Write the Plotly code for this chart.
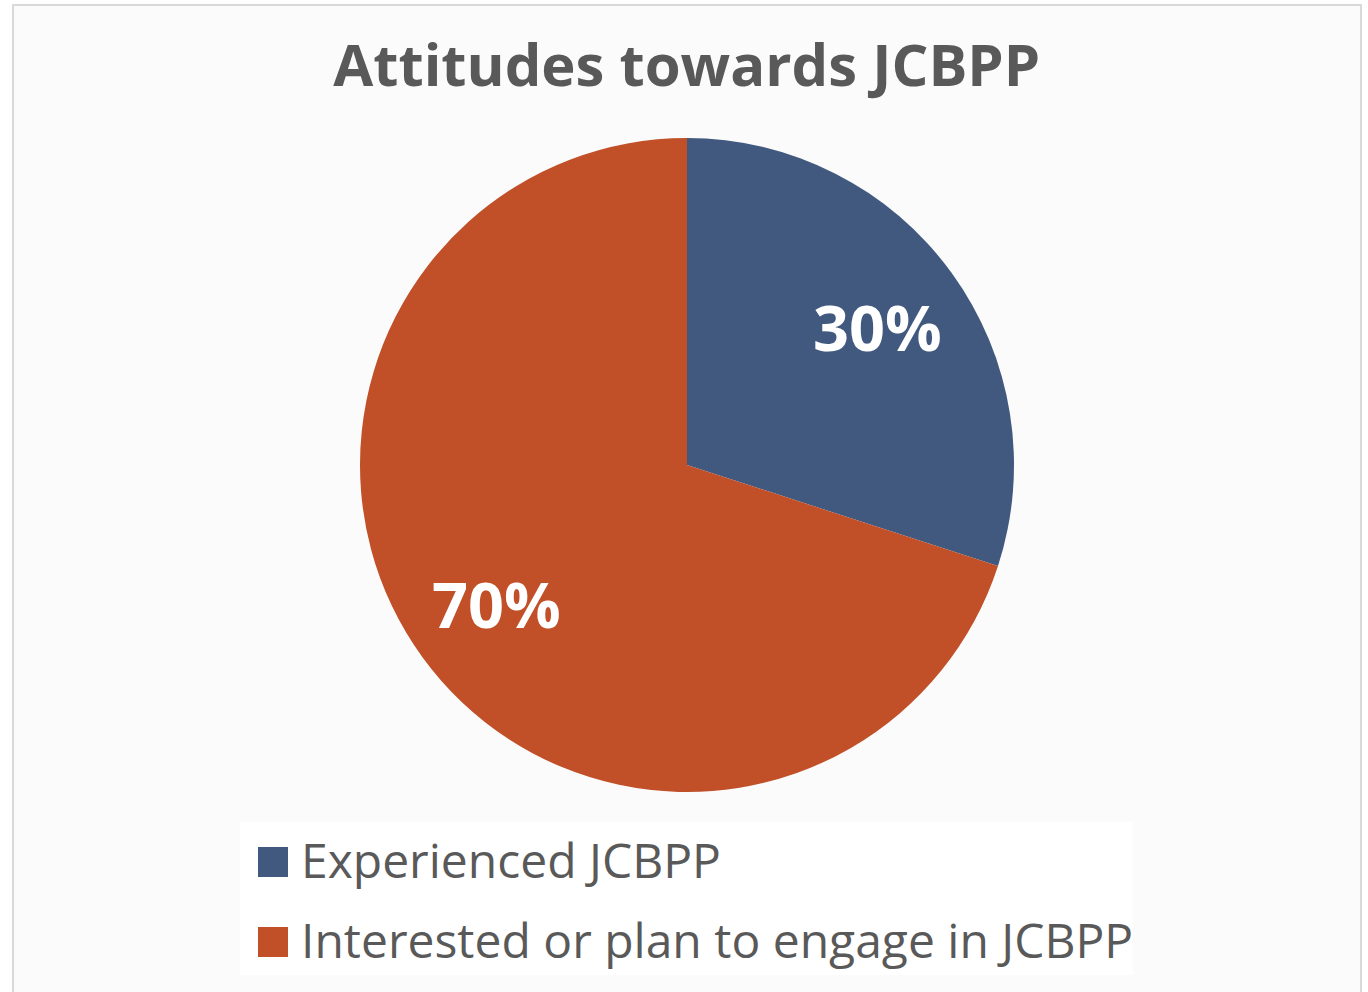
import math
import plotly.graph_objects as go

labels = ['Experienced JCBPP', 'Interested or plan to engage in JCBPP']
values = [30, 70]
colors = ['#41597F', '#C14F28']
title_text = 'Attitudes towards JCBPP'

W, H = 1368, 992
FONT = 'Open Sans'
GREY = '#595959'

# pie geometry (pixels)
cx, cy, R = 687, 465, 327

fig = go.Figure()
fig.add_trace(
    go.Pie(
        labels=labels,
        values=values,
        sort=False,
        direction='clockwise',
        rotation=0,
        marker={'colors': colors, 'line': {'width': 0}},
        textinfo='none',
        domain={'x': [(cx - R) / W, (cx + R) / W], 'y': [1 - (cy + R) / H, 1 - (cy - R) / H]},
        showlegend=False,
        hoverinfo='label+percent',
    )
)

# frame + faint background
shapes = [
    dict(type='rect', xref='paper', yref='paper', x0=13 / W, x1=1361 / W, y0=-0.01, y1=1 - 5 / H,
         fillcolor='#fbfbfb', line={'color': '#d9d9d9', 'width': 2}, layer='below'),
    dict(type='rect', xref='paper', yref='paper', x0=240 / W, x1=1133 / W, y0=1 - 975 / H, y1=1 - 822 / H,
         fillcolor='white', line={'width': 0}, layer='below'),
]
annotations = []

# data labels placed along each slice's mid angle, like Excel does
total = sum(values)
start = 0.0
for v in values:
    mid = (start + v / 2) / total * 2 * math.pi
    start += v
    x = cx + 0.72 * R * math.sin(mid)
    y = cy - 0.72 * R * math.cos(mid)
    annotations.append(dict(text=f'{v / total:.0%}', xref='paper', yref='paper', x=x / W, y=1 - y / H,
                            xanchor='center', yanchor='middle', showarrow=False,
                            font={'family': FONT, 'size': 63, 'color': 'white', 'weight': 'bold'}))

# legend drawn by hand so the swatches can be large
for i, (lab, col) in enumerate(zip(labels, colors)):
    yc = 862 + i * 80
    shapes.append(dict(type='rect', xref='paper', yref='paper',
                       x0=258 / W, x1=288 / W, y0=1 - (yc + 15) / H, y1=1 - (yc - 15) / H,
                       fillcolor=col, line={'width': 0}))
    annotations.append(dict(text=lab, xref='paper', yref='paper', x=299 / W, y=1 - (yc - 3) / H,
                            xanchor='left', yanchor='middle', showarrow=False,
                            font={'family': FONT, 'size': 48, 'color': GREY}))

fig.update_layout(
    width=W,
    height=H,
    margin={'l': 0, 'r': 0, 't': 0, 'b': 0},
    paper_bgcolor='white',
    plot_bgcolor='white',
    title={'text': title_text, 'x': 0.502, 'xanchor': 'center', 'y': 1 - 66 / H, 'yanchor': 'middle',
           'font': {'family': FONT, 'size': 58, 'color': GREY, 'weight': 'bold'}},
    shapes=shapes,
    annotations=annotations,
)

fig.write_html('out.html', config={'displayModeBar': False},
               post_script="document.body.style.margin='0';")
